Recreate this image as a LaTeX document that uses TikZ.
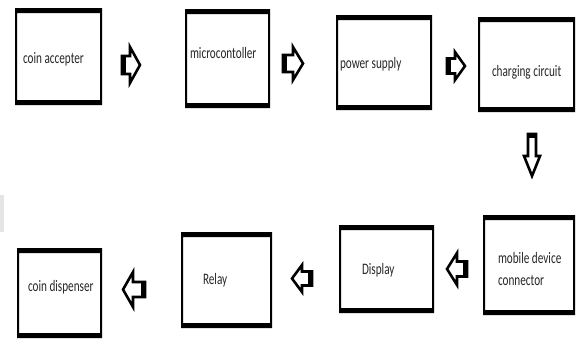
\documentclass[tikz,border=0pt]{standalone}
\usepackage{fontspec}
\usepackage{graphicx}
\setmainfont{Carlito}
\tikzset{
  x=1pt, y=-1pt,
  blk/.style={inner sep=0pt, outer sep=0pt},
  lbl/.style={inner sep=0pt, outer sep=0pt, anchor=west, text=black!85,
              font=\fontsize{16}{22}\selectfont, align=left},
  arrowline/.style={draw=black, line width=2.6pt, line join=miter, fill=white},
  % block arrow pointing along +x: total length, head length, head half-width, shaft half-width
  pics/blockarrow/.style n args={4}{code={
    \path[arrowline] (-#1/2,-#4) -- (#1/2-#2,-#4) -- (#1/2-#2,-#3) -- (#1/2,0)
      -- (#1/2-#2,#3) -- (#1/2-#2,#4) -- (-#1/2,#4) -- cycle;
    \fill (-#1/2-1.3,-#4-1.3) rectangle (-#1/2+4,#4+1.3);
  }}
}
% block outline: thin sides, heavy top and bottom edges
\newcommand{\blockframe}[1]{%
  \fill[even odd rule] (#1.north west) rectangle (#1.south east)
    ([xshift=2pt,yshift=-5pt]#1.north west) rectangle ([xshift=-2pt,yshift=5pt]#1.south east);}
\newcommand{\squeeze}[1]{\scalebox{0.7}[1]{#1}}
\begin{document}
\begin{tikzpicture}
\useasboundingbox (0,0) rectangle (580,340);
\fill[white] (0,0) rectangle (580,340);
% faint mark at the left edge
\fill[black!10] (0,195) rectangle (4,232);

% blocks (outer extents)
\node[blk, minimum width=87, minimum height=97] (acc) at (58.5,56.5) {};
\node[blk, minimum width=85, minimum height=99] (mcu) at (227.5,58.5) {};
\node[blk, minimum width=96, minimum height=95] (psu) at (384,62.5) {};
\node[blk, minimum width=97, minimum height=95] (chg) at (526.5,64.5) {};
\node[blk, minimum width=92, minimum height=100] (mob) at (529,265) {};
\node[blk, minimum width=95, minimum height=88] (dsp) at (386.5,269) {};
\node[blk, minimum width=91, minimum height=96] (rly) at (226.5,280) {};
\node[blk, minimum width=85, minimum height=90] (dis) at (59.5,293) {};
\foreach \n in {acc,mcu,psu,chg,mob,dsp,rly,dis} {\blockframe{\n}}

% labels
\node[lbl] (tacc) at (23,59) {\squeeze{coin accepter}};
\node[lbl] (tmcu) at (190,53) {\squeeze{microcontoller}};
\node[lbl] (tpsu) at (340,64) {\squeeze{power supply}};
\node[lbl] (tchg) at (492,72) {\squeeze{charging circuit}};
\node[lbl] (tmob) at (498,269) {\squeeze{mobile device}\\\squeeze{connector}};
\node[lbl] (tdsp) at (362,270) {\squeeze{Display}};
\node[lbl] (trly) at (203,280) {\squeeze{Relay}};
\node[lbl] (tdis) at (28,287) {\squeeze{coin dispenser}};

% flow arrows
\pic at (131,65) {blockarrow={18}{10}{18}{9}};
\pic at (293,63.5) {blockarrow={20}{10}{16.5}{8.5}};
\pic at (456,66) {blockarrow={18}{10}{14}{7.5}};
\pic[rotate=-90] at (532,155) {blockarrow={42}{20}{8}{4}};
\pic[xscale=-1] at (457,269) {blockarrow={20}{10}{16}{7.5}};
\pic[xscale=-1] at (302,278.5) {blockarrow={20}{10}{13.5}{7}};
\pic[xscale=-1] at (134,289.5) {blockarrow={22}{10}{17.5}{7.5}};
\end{tikzpicture}
\end{document}
